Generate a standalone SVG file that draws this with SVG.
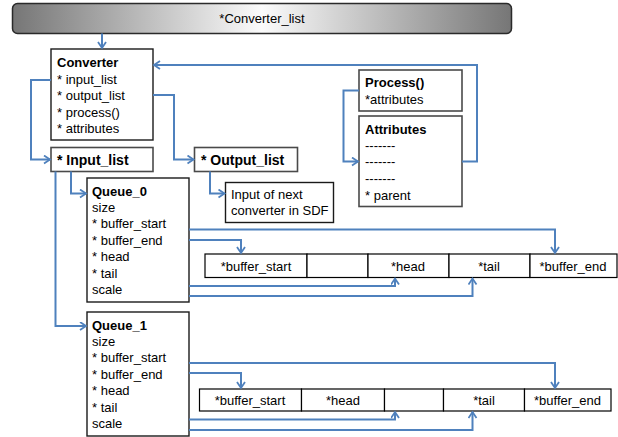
<svg xmlns="http://www.w3.org/2000/svg" width="618" height="437" viewBox="0 0 618 437">
  <defs>
    <linearGradient id="barFill" x1="0" y1="0" x2="1" y2="0">
      <stop offset="0" stop-color="#767676"/>
      <stop offset="0.5" stop-color="#fbfbfb"/>
      <stop offset="1" stop-color="#767676"/>
    </linearGradient>
    <marker id="arrow" markerUnits="userSpaceOnUse" markerWidth="10" markerHeight="10" refX="7" refY="4.5" orient="auto">
      <path d="M1,0.5 L7,4.5 L1,8.5" fill="none" stroke="#4f81bd" stroke-width="1.8"/>
    </marker>
  </defs>
  <style>
    text { font-family: "Liberation Sans", Arial, sans-serif; font-size: 13px; fill: #000; }
    .b { font-weight: bold; }
    .big { font-size: 14px; font-weight: bold; }
    .c { text-anchor: middle; }
    .box { fill: #fff; stroke: #1a1a1a; stroke-width: 1.4; }
    .gbox { fill: #fff; stroke: #4a4a4a; stroke-width: 1.6; }
    .cell { fill: #fff; stroke: #000; stroke-width: 1.2; }
    .con { fill: none; stroke: #4f81bd; stroke-width: 2; }
    .arr { marker-end: url(#arrow); }
  </style>

  <!-- list header -->
  <g id="converter_list">
    <rect x="12.5" y="3.5" width="499" height="30" rx="5" fill="url(#barFill)" stroke="#2a2a2a" stroke-width="1.5"/>
    <text x="262" y="23" class="c">*Converter_list</text>
  </g>

  <!-- converter -->
  <g id="converter">
    <rect x="51" y="49" width="102" height="91" class="box"/>
    <text x="57" y="67" class="b">Converter</text>
    <text x="57" y="84">* input_list</text>
    <text x="57" y="100">* output_list</text>
    <text x="57" y="117">* process()</text>
    <text x="57" y="133">* attributes</text>
  </g>

  <g id="input_list">
    <rect x="51" y="147.5" width="102" height="24" class="gbox"/>
    <text x="57" y="164.5" class="big">* Input_list</text>
  </g>

  <g id="output_list">
    <rect x="194.5" y="147.5" width="103" height="24" class="gbox"/>
    <text x="201" y="164.5" class="big">* Output_list</text>
  </g>

  <g id="next_input">
    <rect x="225.5" y="182.5" width="108" height="40" class="box"/>
    <text x="231" y="198.5">Input of next</text>
    <text x="231" y="215">converter in SDF</text>
  </g>

  <g id="process">
    <rect x="359" y="70" width="103" height="41" class="gbox"/>
    <text x="365" y="87" class="b">Process()</text>
    <text x="365" y="104">*attributes</text>
  </g>

  <g id="attributes">
    <rect x="359" y="116" width="103" height="90.5" class="gbox"/>
    <text x="365" y="134" class="b">Attributes</text>
    <text x="365" y="150">-------</text>
    <text x="365" y="166">-------</text>
    <text x="365" y="183">-------</text>
    <text x="365" y="199.5">* parent</text>
  </g>

  <!-- queues -->
  <g id="queue_0">
    <rect x="87" y="178" width="102" height="124" class="box"/>
    <text x="92" y="195.5" class="b">Queue_0</text>
    <text x="92" y="211.5">size</text>
    <text x="92" y="228">* buffer_start</text>
    <text x="92" y="244.5">* buffer_end</text>
    <text x="92" y="261">* head</text>
    <text x="92" y="277.5">* tail</text>
    <text x="92" y="294">scale</text>
  </g>

  <g id="queue_1">
    <rect x="87" y="312" width="102" height="124" class="box"/>
    <text x="92" y="329.5" class="b">Queue_1</text>
    <text x="92" y="345.5">size</text>
    <text x="92" y="362">* buffer_start</text>
    <text x="92" y="378.5">* buffer_end</text>
    <text x="92" y="395">* head</text>
    <text x="92" y="411.5">* tail</text>
    <text x="92" y="428">scale</text>
  </g>

  <!-- ring buffers -->
  <g id="buffer_0">
    <rect x="205" y="254" width="102" height="23.5" class="cell"/>
    <rect x="307" y="254" width="61" height="23.5" class="cell"/>
    <rect x="368" y="254" width="81" height="23.5" class="cell"/>
    <rect x="449" y="254" width="81" height="23.5" class="cell"/>
    <rect x="530" y="254" width="87" height="23.5" class="cell"/>
    <text x="256" y="271" class="c">*buffer_start</text>
    <text x="408" y="271" class="c">*head</text>
    <text x="489" y="271" class="c">*tail</text>
    <text x="573" y="271" class="c">*buffer_end</text>
  </g>

  <g id="buffer_1">
    <rect x="199.5" y="389" width="102" height="22" class="cell"/>
    <rect x="301.5" y="389" width="83" height="22" class="cell"/>
    <rect x="384.5" y="389" width="59" height="22" class="cell"/>
    <rect x="443.5" y="389" width="81" height="22" class="cell"/>
    <rect x="524.5" y="389" width="86.5" height="22" class="cell"/>
    <text x="250" y="404.5" class="c">*buffer_start</text>
    <text x="343" y="404.5" class="c">*head</text>
    <text x="484" y="404.5" class="c">*tail</text>
    <text x="567.5" y="404.5" class="c">*buffer_end</text>
  </g>

  <!-- pointer connectors -->
  <g id="connectors">
    <path d="M102,33.5 V48" class="con arr"/>
    <path d="M51,80 H31 V159.5 H50" class="con arr"/>
    <path d="M153,95 H174 V159.5 H193.5" class="con arr"/>
    <path d="M462,161.5 H477 V65 H154" class="con arr"/>
    <path d="M359,90.5 H343.5 V161.5 H358" class="con arr"/>
    <path d="M71,171.5 V193.5 H86" class="con arr"/>
    <path d="M55.5,171.5 V326 H86" class="con arr"/>
    <path d="M210,171.5 V193.5 H224.5" class="con arr"/>

    <path d="M189,229.5 H555 V253" class="con arr"/>
    <path d="M189,240 H241 V253" class="con arr"/>
    <path d="M189,286 H395 V278.5" class="con arr"/>
    <path d="M189,296 H472.5 V278.5" class="con arr"/>

    <path d="M189,363 H555 V388" class="con arr"/>
    <path d="M189,373 H241 V388" class="con arr"/>
    <path d="M189,419.5 H395 V412" class="con arr"/>
    <path d="M189,430 H472.5 V412" class="con arr"/>
  </g>
</svg>
